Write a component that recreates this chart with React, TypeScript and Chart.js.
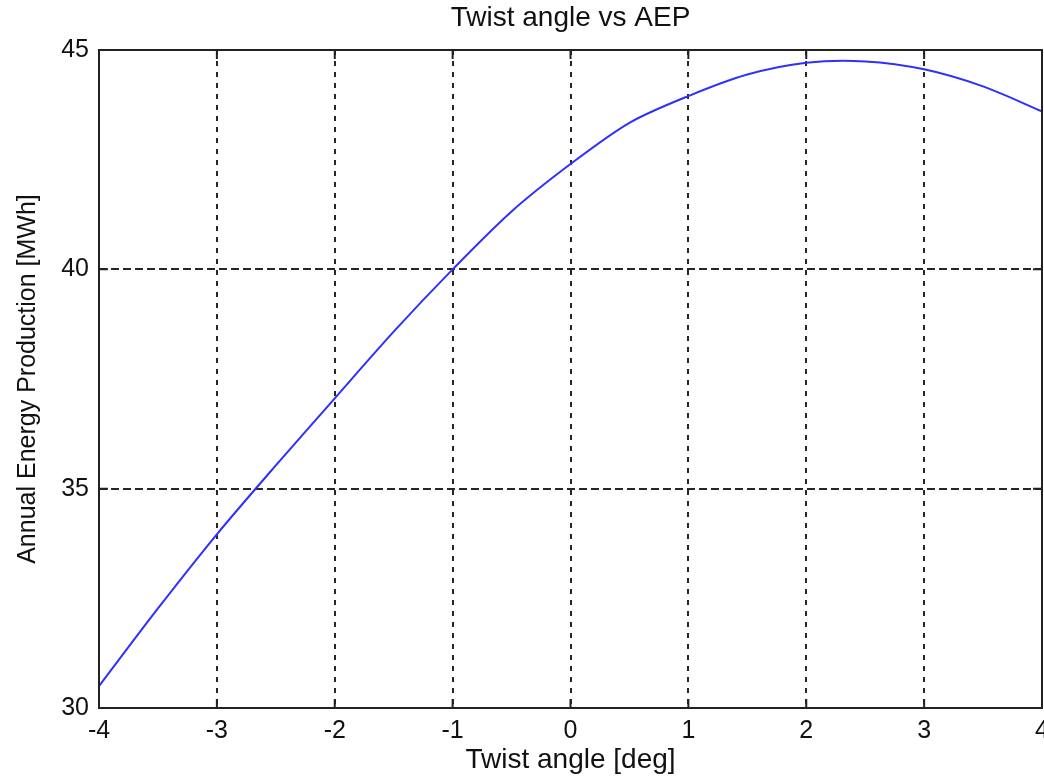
import React, { useEffect, useRef } from "react";
import { Chart, registerables } from "chart.js";

Chart.register(...registerables);

const twistAngles = [-4, -3.5, -3, -2.5, -2, -1.5, -1, -0.5, 0, 0.5, 1, 1.5, 2, 2.5, 3, 3.5, 4];
const aepValues = [30.5, 32.27, 33.96, 35.53, 37.06, 38.58, 40.0, 41.32, 42.4, 43.34, 43.95, 44.44, 44.71, 44.74, 44.56, 44.17, 43.6];
const xTicks = [-4, -3, -2, -1, 0, 1, 2, 3, 4];
const yTicks = [30, 35, 40, 45];

const chartTitle = "Twist angle vs AEP";
const xTitle = "Twist angle [deg]";
const yTitle = "Annual Energy Production [MWh]";

const FONT = "'Liberation Sans', Arial, sans-serif";
const TEXT = "#111";

const framePlugin = {
  id: "frame",
  afterDraw(chart: any) {
    const { ctx, chartArea, scales } = chart;
    const { left, right, top, bottom } = chartArea;
    ctx.save();
    ctx.strokeStyle = "#222";
    ctx.lineWidth = 2;
    ctx.beginPath();
    const tl = 9;
    for (const v of xTicks) {
      const px = scales.x.getPixelForValue(v);
      ctx.moveTo(px, bottom);
      ctx.lineTo(px, bottom - tl);
      ctx.moveTo(px, top);
      ctx.lineTo(px, top + tl);
    }
    for (const v of yTicks) {
      const py = scales.y.getPixelForValue(v);
      ctx.moveTo(left, py);
      ctx.lineTo(left + tl, py);
      ctx.moveTo(right, py);
      ctx.lineTo(right - tl, py);
    }
    ctx.stroke();
    ctx.strokeRect(left, top, right - left, bottom - top);
    ctx.restore();
  },
};

export default function App() {
  const canvasRef = useRef<HTMLCanvasElement | null>(null);

  useEffect(() => {
    const canvas = canvasRef.current;
    if (!canvas) return;
    const chart = new Chart(canvas, {
      type: "line",
      data: {
        datasets: [
          {
            label: "AEP",
            data: twistAngles.map((x, i) => ({ x, y: aepValues[i] })),
            xAxisID: "x",
            yAxisID: "y",
            borderColor: "#2f2fff",
            borderWidth: 2,
            pointRadius: 0,
            tension: 0.3,
            fill: false,
          },
        ],
      },
      options: {
        animation: false,
        responsive: false,
        maintainAspectRatio: false,
        layout: { padding: { left: 0, right: 2, top: 0, bottom: 0 } },
        plugins: {
          legend: { display: false },
          tooltip: { enabled: false },
          title: { display: false },
        },
        scales: {
          xTop: {
            type: "linear",
            position: "top",
            min: -4,
            max: 4,
            afterFit: (scale: any) => {
              scale.height = 50;
              scale.paddingLeft = 0;
              scale.paddingRight = 0;
            },
            ticks: { display: false },
            grid: { display: false, drawOnChartArea: false, drawTicks: false },
            border: { display: false },
            title: {
              display: true,
              text: chartTitle,
              color: TEXT,
              font: { family: FONT, size: 28 },
              padding: { top: 1, bottom: 0 },
            },
          },
          x: {
            type: "linear",
            position: "bottom",
            min: -4,
            max: 4,
            afterBuildTicks: (scale: any) => {
              scale.ticks = xTicks.map((v) => ({ value: v }));
            },
            afterFit: (scale: any) => {
              scale.height = 70;
              scale.paddingLeft = 0;
              scale.paddingRight = 0;
            },
            ticks: {
              color: TEXT,
              font: { family: FONT, size: 25 },
              padding: 8,
              maxRotation: 0,
              autoSkip: false,
            },
            grid: {
              color: "rgba(0,0,0,0.85)",
              lineWidth: 2,
              drawTicks: false,
            },
            border: { display: false, dash: [5, 6] },
            title: {
              display: true,
              text: xTitle,
              color: TEXT,
              font: { family: FONT, size: 28 },
              padding: { top: 0, bottom: 1 },
            },
          },
          y: {
            type: "linear",
            min: 30,
            max: 45,
            afterBuildTicks: (scale: any) => {
              scale.ticks = yTicks.map((v) => ({ value: v }));
            },
            afterFit: (scale: any) => {
              scale.width = 99;
            },
            ticks: {
              color: TEXT,
              font: { family: FONT, size: 25 },
              padding: 10,
              autoSkip: false,
            },
            grid: {
              color: "rgba(0,0,0,0.85)",
              lineWidth: 2,
              drawTicks: false,
            },
            border: { display: false, dash: [8, 4] },
            title: {
              display: true,
              text: yTitle,
              color: TEXT,
              font: { family: FONT, size: 25 },
              padding: { top: 13, bottom: 0 },
            },
          },
        },
      },
      plugins: [framePlugin],
    });
    return () => chart.destroy();
  }, []);

  return (
    <div style={{ position: "fixed", left: 0, top: 0, width: 1044, height: 778, background: "#fff" }}>
      <canvas ref={canvasRef} width={1044} height={778} style={{ display: "block" }} />
    </div>
  );
}
